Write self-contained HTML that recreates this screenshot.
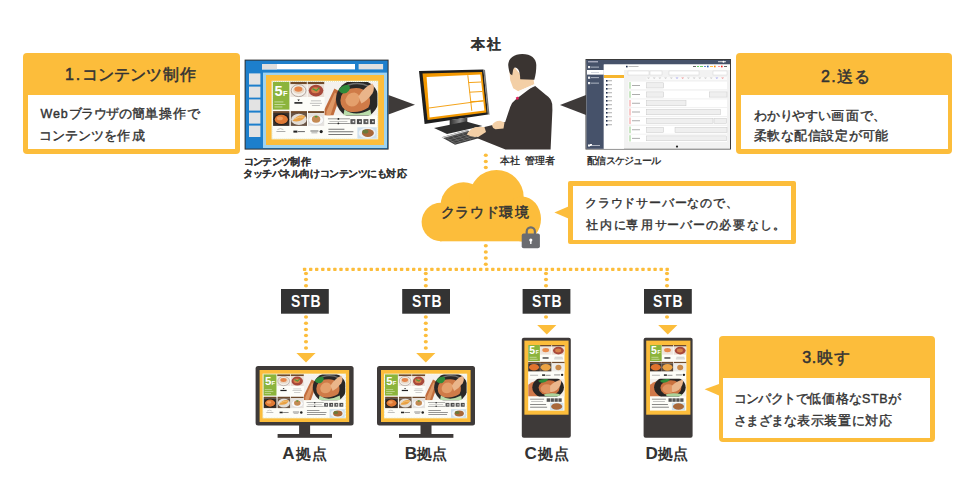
<!DOCTYPE html>
<html><head><meta charset="utf-8">
<style>
*{margin:0;padding:0;box-sizing:border-box}
html,body{width:974px;height:490px;overflow:hidden;background:#fff}
body{position:relative;font-family:"Liberation Sans",sans-serif;color:#333333}
.t{position:absolute;white-space:nowrap;font-weight:bold;line-height:1}
.box{position:absolute;background:#fcbd3b;border-radius:4px}
.box .in{position:absolute;background:#fff}
</style></head><body>
<svg width="974" height="490" viewBox="0 0 974 490" style="position:absolute;left:0;top:0"><defs>
<symbol id="mh" viewBox="0 0 107 59" preserveAspectRatio="none">
 <rect x="0" y="0" width="107" height="59" fill="#fdfdf8"/>
 <rect x="0.6" y="0.6" width="105.8" height="57.8" fill="none" stroke="#c9d9a8" stroke-width="0.8" stroke-dasharray="1 1"/>
 <rect x="1.5" y="1.3" width="16.5" height="27.7" fill="#8cb43c"/>
 <text x="3.2" y="15.2" font-family="Liberation Sans" font-weight="bold" font-size="14.6" fill="#fff">5</text>
 <text x="11.6" y="15.2" font-family="Liberation Sans" font-weight="bold" font-size="7.6" fill="#fff">F</text>
 <rect x="3" y="21" width="9" height="0.7" fill="#dfeec5"/>
 <rect x="3" y="23.5" width="11" height="0.7" fill="#dfeec5"/>
 <rect x="3" y="26" width="8" height="0.7" fill="#dfeec5"/>
 <g>
  <rect x="19" y="1.3" width="16.4" height="2.4" fill="#6f4a2b"/>
  <rect x="19" y="3.7" width="16.4" height="12.7" fill="#eee6df"/>
  <ellipse cx="27.2" cy="10" rx="7.4" ry="6" fill="#f3efe9" stroke="#8a7a70" stroke-width="0.6"/>
  <ellipse cx="27.2" cy="9.5" rx="5.6" ry="3.8" fill="#e9d6c2"/>
  <ellipse cx="27" cy="8.5" rx="4" ry="2.6" fill="#e4844a"/>
  <rect x="23" y="21.5" width="8" height="1.6" fill="#222"/>
  <path d="M26 19 l1.2 1.6 l1.2 -1.6z" fill="#222"/>
  <rect x="36.3" y="1.3" width="16.7" height="2.4" fill="#6f4a2b"/>
  <rect x="36.3" y="3.7" width="16.7" height="12.7" fill="#e9ddd4"/>
  <ellipse cx="44.6" cy="10" rx="7.3" ry="5.8" fill="#a8483a"/>
  <ellipse cx="44" cy="9.6" rx="4.2" ry="3" fill="#d6804a"/>
  <path d="M41 8 l4 2 l3 -3" stroke="#4f9a3a" stroke-width="1.3" fill="none"/>
  <rect x="39.5" y="20" width="10" height="0.6" fill="#999"/>
  <rect x="38.5" y="22.3" width="12" height="0.6" fill="#999"/>
  <rect x="40.5" y="24.6" width="8" height="0.6" fill="#999"/>
 </g>
 <g>
  <rect x="1.7" y="30.5" width="16.3" height="1.9" fill="#6f4a2b"/>
  <rect x="1.7" y="32.4" width="16.3" height="12.9" fill="#3a302a"/>
  <ellipse cx="9.9" cy="38.6" rx="7.8" ry="5.6" fill="#1f1c1a"/>
  <ellipse cx="9.9" cy="38.8" rx="6.6" ry="4.6" fill="#e07a35"/>
  <ellipse cx="8.5" cy="37.8" rx="3" ry="1.8" fill="#f0a060"/>
  <rect x="19.4" y="30.5" width="16.2" height="1.9" fill="#6f4a2b"/>
  <rect x="19.4" y="32.4" width="16.2" height="12.9" fill="#6a5545"/>
  <ellipse cx="27.5" cy="38.8" rx="7.8" ry="5.6" fill="#e3ddd5"/>
  <path d="M21 40.5 q6 -8 13 -5 q-3 7 -13 5z" fill="#e9a043"/>
  <path d="M23 38.5 q5 -3 9 -2" stroke="#f7d08a" stroke-width="0.8" fill="none"/>
  <rect x="36.6" y="30.5" width="16.2" height="1.9" fill="#6f4a2b"/>
  <rect x="36.6" y="32.4" width="16.2" height="12.9" fill="#e6e3df"/>
  <ellipse cx="44.7" cy="39.5" rx="7.5" ry="5" fill="#fafafa" stroke="#cfcfcf" stroke-width="0.5"/>
  <ellipse cx="44.7" cy="38.6" rx="4.2" ry="3.6" fill="#c48a52"/>
  <ellipse cx="44.7" cy="36" rx="1.5" ry="0.9" fill="#4f9a3a"/>
  <rect x="5" y="50.5" width="9" height="0.7" fill="#888"/>
  <path d="M6 49 q3 -2 6 0" stroke="#888" stroke-width="0.5" fill="none"/>
  <rect x="22" y="50" width="4" height="2" fill="#222"/>
  <rect x="26.5" y="50.5" width="7" height="1" fill="#666"/>
  <rect x="39" y="50" width="8" height="0.8" fill="#444"/>
  <rect x="40" y="52" width="6" height="0.6" fill="#777"/>
  <circle cx="49.8" cy="51" r="1.6" fill="#222"/>
 </g>
 <clipPath id="cph"><rect x="53" y="1.3" width="53" height="33.7"/></clipPath>
 <g clip-path="url(#cph)">
  <rect x="53" y="1.3" width="53" height="33.7" fill="#f4f1ee"/>
  <path d="M53 29 L63 8 L70 12 L62 35 L53 35z" fill="#c26e3e"/>
  <path d="M55 31 L63.5 12 L66 14 L59 35 L55 35z" fill="#de9866"/>
  <ellipse cx="86" cy="18.5" rx="21.5" ry="19.5" fill="#2a2827"/>
  <path d="M70 8 Q84 -1 98 6" stroke="#8d8d8d" stroke-width="1.6" fill="none" opacity="0.7"/>
  <path d="M69 20 Q70 9 80 8 Q90 6 96 12 Q101 20 97 27 Q88 33 77 31 Q69 28 69 20z" fill="#cf7b48"/>
  <path d="M74 19 Q76 12 83 12 Q89 13 88 20 Q86 26 80 26 Q74 25 74 19z" fill="#e4a06c"/>
  <path d="M87 16 Q93 6 101 3 Q104 7 101 13 Q96 20 90 23z" fill="#eab58a"/>
  <path d="M67 10 Q70 4 77 4.5 Q81 8 75 12.5 Q70 14 67 10z" fill="#2e8b3a"/>
  <path d="M73 29 Q84 37 99 29 L100 35 L72 35z" fill="#b9dca9"/>
 </g>
 <g>
  <rect x="56.5" y="38" width="22" height="0.6" fill="#555"/>
  <circle cx="67" cy="38.3" r="0.9" fill="#222"/>
  <rect x="58" y="40.5" width="18" height="0.5" fill="#888"/>
  <rect x="56.5" y="42.5" width="22" height="0.6" fill="#555"/>
  <circle cx="67" cy="42.8" r="0.9" fill="#222"/>
  <rect x="79" y="38.5" width="5" height="5" fill="#5a5a5a"/>
  <rect x="85.5" y="38.5" width="5" height="5" fill="#4a4a4a"/>
  <rect x="92" y="38.5" width="5" height="5" fill="#5a5a5a"/>
  <rect x="98.5" y="38.5" width="5" height="5" fill="#4a4a4a"/>
  <rect x="81.2" y="40.2" width="1.6" height="1.6" fill="#f0f0f0"/>
  <rect x="87.7" y="40.2" width="1.6" height="1.6" fill="#e8e8e8"/>
  <rect x="94.2" y="40.2" width="1.6" height="1.6" fill="#f0f0f0"/>
  <rect x="100.7" y="40.2" width="1.6" height="1.6" fill="#e8e8e8"/>
  <rect x="57" y="48.2" width="16" height="0.8" fill="#555"/>
  <rect x="57" y="50.8" width="25" height="0.8" fill="#555"/>
  <rect x="57" y="53.4" width="24" height="0.8" fill="#555"/>
  <rect x="86" y="46.7" width="19.4" height="11.3" fill="#cfe0ec"/>
  <ellipse cx="95.7" cy="52.4" rx="8.5" ry="5.4" fill="#eef3f6"/>
  <ellipse cx="96.5" cy="52.4" rx="6" ry="4" fill="#a9683a"/>
  <ellipse cx="94" cy="51" rx="3" ry="2" fill="#6a7a3a"/>
 </g>
</symbol>

<symbol id="mv" viewBox="0 0 36.6 66" preserveAspectRatio="none">
 <rect x="0" y="0" width="36.6" height="66" fill="#fdfdf8"/>
 <rect x="0" y="0" width="11.8" height="16.2" fill="#8cb43c"/>
 <text x="1.1" y="8.9" font-family="Liberation Sans" font-weight="bold" font-size="10.5" fill="#fff">5</text>
 <text x="7.6" y="8.9" font-family="Liberation Sans" font-weight="bold" font-size="5" fill="#fff">F</text>
 <rect x="1.5" y="12" width="7" height="0.6" fill="#dfeec5"/>
 <rect x="1.5" y="14" width="8" height="0.6" fill="#dfeec5"/>
 <rect x="12" y="0" width="11.3" height="1.7" fill="#6f4a2b"/>
 <rect x="12" y="1.7" width="11.3" height="8.1" fill="#eee6df"/>
 <ellipse cx="17.6" cy="5.7" rx="4.8" ry="3.4" fill="#ede3da"/>
 <ellipse cx="17.6" cy="5.2" rx="3.4" ry="2.2" fill="#e98a4a"/>
 <rect x="14.5" y="12.5" width="6" height="1.2" fill="#222"/>
 <rect x="24" y="0" width="12.6" height="1.7" fill="#6f4a2b"/>
 <rect x="24" y="1.7" width="12.6" height="8.1" fill="#e9ddd4"/>
 <ellipse cx="30.3" cy="5.7" rx="5.4" ry="3.8" fill="#a8483a"/>
 <ellipse cx="30" cy="5.5" rx="3" ry="2" fill="#d6804a"/>
 <rect x="26.5" y="12" width="8" height="0.5" fill="#999"/>
 <rect x="26" y="13.8" width="9" height="0.5" fill="#999"/>
 <rect x="0" y="17" width="11.8" height="1.4" fill="#6f4a2b"/>
 <rect x="0" y="18.4" width="11.8" height="8.1" fill="#3a302a"/>
 <ellipse cx="5.9" cy="22.4" rx="5" ry="3.3" fill="#e0732e"/>
 <rect x="12" y="17" width="11.3" height="1.4" fill="#6f4a2b"/>
 <rect x="12" y="18.4" width="11.3" height="8.1" fill="#5a4a3e"/>
 <ellipse cx="17.6" cy="22.5" rx="5" ry="3.4" fill="#eba345"/>
 <rect x="24" y="17" width="12.6" height="1.4" fill="#6f4a2b"/>
 <rect x="24" y="18.4" width="12.6" height="8.1" fill="#ecebe8"/>
 <ellipse cx="30.3" cy="22.6" rx="3" ry="2.8" fill="#c98a4a"/>
 <rect x="2" y="30" width="8" height="0.6" fill="#888"/>
 <rect x="14" y="29.5" width="3" height="1.5" fill="#222"/>
 <rect x="17.5" y="30" width="5" height="0.7" fill="#666"/>
 <rect x="26" y="29.8" width="6" height="0.6" fill="#444"/>
 <circle cx="34" cy="30" r="1.2" fill="#222"/>
 <clipPath id="cpv"><rect x="0" y="33.8" width="36.6" height="18"/></clipPath>
 <g clip-path="url(#cpv)">
 <rect x="0" y="33.8" width="36.6" height="18" fill="#f3efeb"/>
 <path d="M0 51.8 L0 40 Q4 37 8 36 L12 51.8z" fill="#d0784a"/>
 <ellipse cx="20" cy="42.5" rx="15.8" ry="11.5" fill="#272524"/>
 <ellipse cx="21" cy="43" rx="10.5" ry="7.5" fill="#c9713f"/>
 <ellipse cx="18.5" cy="44" rx="6" ry="4.5" fill="#e09461"/>
 <path d="M22 41 Q27 36 33 35 Q34 40 29 45 Q25 48 22 47z" fill="#eab68c"/>
 <path d="M10 36 Q14 33.5 20 34.5 Q19 37.5 14 38 Q11 38 10 36z" fill="#2f8d3c"/>
 <ellipse cx="24" cy="50.3" rx="8" ry="1.8" fill="#a9d29a"/>
 </g>
 <rect x="2" y="54" width="14" height="0.6" fill="#555"/>
 <rect x="3" y="56.2" width="12" height="0.5" fill="#888"/>
 <rect x="18.6" y="53.5" width="3.3" height="3.5" fill="#555"/>
 <rect x="22.5" y="53.5" width="3.3" height="3.5" fill="#555"/>
 <rect x="26.4" y="53.5" width="3.3" height="3.5" fill="#555"/>
 <rect x="30.3" y="53.5" width="3.3" height="3.5" fill="#555"/>
 <rect x="2" y="59.5" width="16" height="0.7" fill="#555"/>
 <rect x="2" y="62" width="17" height="0.7" fill="#555"/>
 <rect x="22" y="58" width="13.3" height="7.5" fill="#cfe0ec"/>
 <ellipse cx="28.6" cy="61.7" rx="5.5" ry="3.3" fill="#a9683a"/>
</symbol>
</defs>
 <rect x="244.6" y="59.6" width="144" height="90" fill="#2f2f2f"/>
 <rect x="245.6" y="60.6" width="142" height="88" fill="#1d7fcc"/>
 <rect x="262" y="64" width="93" height="5.4" fill="#ffffff"/>
 <rect x="262" y="64" width="15" height="5.4" fill="#dedede"/>
 <rect x="358.6" y="64" width="24.5" height="5.4" fill="#e0e0e0"/>
 <rect x="249" y="73.4" width="11.4" height="11.2" fill="#e3e3e3"/>
 <rect x="249" y="86.6" width="11.4" height="11" fill="#e3e3e3"/>
 <rect x="249" y="99.4" width="11.4" height="11.2" fill="#e3e3e3"/>
 <rect x="249" y="112.6" width="11.4" height="11" fill="#e3e3e3"/>
 <rect x="249" y="125.6" width="11.4" height="11.4" fill="#e3e3e3"/>
 <rect x="263" y="72.6" width="124" height="75.4" fill="#9fd3ef"/>
 <rect x="266" y="75" width="118" height="70" fill="#fcbd3b"/>
 <use href="#mh" x="271.4" y="80.6" width="107" height="59"/>
<path d="M388.4 95 L415 104.7 L388.4 114.5z" fill="#3e3a39"/><path d="M586 95 L560 105 L586 115z" fill="#3e3a39"/>
 <path d="M419 71 L483.4 69.5 L488 114.6 L424.6 124z" fill="#1e1e1e"/>
 <path d="M483.4 69.5 L485 70 L489.5 114.8 L488 114.6z" fill="#777"/>
 <path d="M422.5 73.6 L482 72 L486.4 112.5 L427.6 120z" fill="#f39800"/>
 <path d="M426.6 77 L480.4 74.6 L484.4 110.5 L429.6 117.6z" fill="#fff"/>
 <path d="M467.8 75.2 L471.8 110.8" stroke="#f39800" stroke-width="0.9"/>
 <path d="M468.6 82.6 L481.2 82.0" stroke="#f39800" stroke-width="0.9"/>
 <path d="M469.6 92.2 L482.3 91.5" stroke="#f39800" stroke-width="0.9"/>
 <path d="M470.6 101.7 L483.3 101.0" stroke="#f39800" stroke-width="0.9"/>
 <path d="M429 108 L483.6 100.7" stroke="#f39800" stroke-width="0.9"/>
 <defs><linearGradient id="neck" x1="0" x2="1"><stop offset="0" stop-color="#2a2a2a"/><stop offset="0.6" stop-color="#8a8a8a"/><stop offset="1" stop-color="#3a3a3a"/></linearGradient></defs>
 <path d="M449.7 120 L467.3 117.5 L467.3 126 L449.7 128z" fill="url(#neck)"/>
 <path d="M434 128 L466 121.5 L482.4 126 L447 134z" fill="#2e2e2e"/>
 <path d="M441.7 137.2 L467.3 130 L479.4 138 L455 144.7z" fill="#3e3e3e"/>
 <path d="M441.7 137.2 L467.3 130 L468.5 131 L443 138.2z" fill="#d0d0d0"/>
 <clipPath id="kb"><path d="M442.5 137.6 L467.3 130.6 L478.5 138 L455 144z"/></clipPath>
 <g stroke="#8a8a8a" stroke-width="0.5" opacity="0.9" clip-path="url(#kb)">
  <path d="M445 138.5 L468.6 131.8"/><path d="M448 140.2 L471 133.6"/><path d="M451 141.9 L473.6 135.4"/><path d="M454 143.4 L476.5 137"/>
  <path d="M447 137.9 L456 143.9"/><path d="M452 136.5 L461 142.5"/><path d="M457 135.1 L466 141.1"/><path d="M462 133.7 L471 139.7"/>
 </g>
 <path d="M516.2 99 L534.3 85.2 L546 95 Q551 98 552.2 104 L552.4 110 L550.6 149.4 L505.5 149.4 L477.4 138.2 L484.4 127.1 L505.2 122.1 L510.2 107 Q512 102 516.2 99z" fill="#3b3533"/>
 <path d="M466.8 134.5 Q470 128.5 476 127 L484.4 127.1 L486 132 L479 136.5 Q472 138 466.8 134.5z" fill="#f3cfa6"/>
 <path d="M492 125.5 Q494 121 500 120.8 L504.5 122.5 L503.5 128.5 L495.5 129.2 Q492.5 128.5 492 125.5z" fill="#f3cfa6"/>
 <path d="M509.2 69.1 L510.2 80.2 L513.2 88.2 L518.2 91.2 L534.3 84.2 L533.3 78 L520 74 L514.7 67.6z" fill="#f3cfa6"/>
 <path d="M518.2 91.2 L534.3 84.2 L535.8 85.7 L519.7 93.3z" fill="#fafafa"/>
 <path d="M515.8 97.6 L518.2 96.4 L519 99 L516.6 100z" fill="#e0245e"/>
 <path d="M508.2 65.1 C508.5 58 514 54 522.3 54 C531 54 536.3 58.5 536.3 65.1 C536.3 70 535.8 75 534.3 79.7 L520.2 79.2 C520.2 76 519.7 73 519.2 71.5 C518 68.5 516.5 67.5 514.7 67.6 C513.5 68.2 513 70 512.8 72 L512.2 75.2 L510.2 74.1 C509.3 72 508.5 69 508.2 65.1z" fill="#3a3431"/>

 <rect x="585.5" y="59" width="145.5" height="90.5" fill="#3a3a3a"/>
 <rect x="586.5" y="60" width="143.5" height="88.8" fill="#f2f2f2"/>
 <rect x="586.5" y="60" width="143.5" height="4.5" fill="#46526a"/>
 <rect x="586.5" y="60" width="17.3" height="88.8" fill="#46526a"/>
 <rect x="587" y="70" width="16.8" height="4.6" fill="#ffffff"/>
 <rect x="603.8" y="64.5" width="20.2" height="84.3" fill="#ffffff"/>
 <rect x="604" y="75" width="20" height="3" fill="#f6b52e"/>
 <rect x="624" y="64.5" width="106" height="5.5" fill="#ffffff"/>
 <rect x="600" y="61" width="0.1" height="0.1" fill="#fff"/>
 <rect x="628" y="71" width="21" height="4" fill="#fff" stroke="#ccc" stroke-width="0.4"/>
 <rect x="650" y="71" width="12" height="4" fill="#fff" stroke="#ccc" stroke-width="0.4"/>
 <rect x="669" y="71" width="30" height="4" fill="#fff" stroke="#ccc" stroke-width="0.4"/>
 <rect x="713" y="71" width="14" height="4" fill="#fff" stroke="#ccc" stroke-width="0.4"/>
 <rect x="626" y="65.8" width="1.6" height="1.6" fill="#1c2a4a"/><rect x="628.5" y="66.2" width="10" height="0.8" fill="#aaa"/>
 <rect x="693" y="66" width="3" height="1" fill="#666"/><rect x="697" y="66" width="2" height="1" fill="#6c6"/><rect x="700" y="66" width="3" height="1" fill="#6c6"/><rect x="704" y="66" width="2" height="1" fill="#68c"/><rect x="707" y="65.7" width="1.6" height="1.6" fill="#2a5fb0"/><rect x="710" y="66" width="3" height="1" fill="#fb4"/><rect x="714" y="65.7" width="1.6" height="1.6" fill="#f80"/><rect x="718" y="66" width="2" height="1" fill="#f99"/><rect x="721" y="65.7" width="1.6" height="1.6" fill="#e22"/><rect x="724" y="66" width="3" height="1" fill="#666"/>
 <rect x="718" y="61.2" width="8" height="1" fill="#ddd"/><circle cx="723.5" cy="61.8" r="1" fill="#fff"/>
 <rect x="588" y="61.3" width="10" height="1" fill="#ccd"/>
 <rect x="646.5" y="77" width="80.5" height="3" fill="#fafafa"/>
 <circle cx="677" cy="146.6" r="1.1" fill="#222"/>
 <rect x="590" y="144" width="2" height="2" fill="#fff"/>
<rect x="628.5" y="81.6" width="98.5" height="7.6" fill="#fff"/><rect x="629.6" y="82.1" width="0.8" height="6.6" fill="#7cc26b"/><rect x="632" y="85.0" width="8" height="0.8" fill="#999"/><rect x="646.5" y="82.8" width="17.1" height="5.2" fill="#efefef" stroke="#c4c4c4" stroke-width="0.45"/><rect x="628.5" y="90.7" width="98.5" height="7.6" fill="#fff"/><rect x="629.6" y="91.2" width="0.8" height="6.6" fill="#7cc26b"/><rect x="632" y="94.1" width="8" height="0.8" fill="#999"/><rect x="646.5" y="91.9" width="17.1" height="5.2" fill="#efefef" stroke="#c4c4c4" stroke-width="0.45"/><rect x="709.4" y="91.9" width="17.6" height="5.2" fill="#efefef" stroke="#c4c4c4" stroke-width="0.45"/><rect x="628.5" y="99.5" width="98.5" height="7.5" fill="#fff"/><rect x="629.6" y="100.0" width="0.8" height="6.5" fill="#ef7b7b"/><rect x="632" y="102.8" width="8" height="0.8" fill="#999"/><rect x="646.5" y="100.7" width="39.5" height="5.1" fill="#efefef" stroke="#c4c4c4" stroke-width="0.45"/><rect x="628.5" y="108" width="98.5" height="8.0" fill="#fff"/><rect x="629.6" y="108.5" width="0.8" height="7.0" fill="#ef7b7b"/><rect x="632" y="111.6" width="8" height="0.8" fill="#999"/><rect x="646.5" y="109.2" width="74.0" height="5.6" fill="#efefef" stroke="#c4c4c4" stroke-width="0.45"/><rect x="628.5" y="117" width="98.5" height="7.6" fill="#fff"/><rect x="629.6" y="117.5" width="0.8" height="6.6" fill="#ef7b7b"/><rect x="632" y="120.4" width="8" height="0.8" fill="#999"/><rect x="646.5" y="118.2" width="66.5" height="5.2" fill="#efefef" stroke="#c4c4c4" stroke-width="0.45"/><rect x="714" y="118.2" width="12.5" height="5.2" fill="#efefef" stroke="#c4c4c4" stroke-width="0.45"/><rect x="628.5" y="126" width="98.5" height="7.7" fill="#fff"/><rect x="629.6" y="126.5" width="0.8" height="6.7" fill="#7cc26b"/><rect x="632" y="129.4" width="8" height="0.8" fill="#999"/><rect x="646.5" y="127.2" width="17.1" height="5.3" fill="#efefef" stroke="#c4c4c4" stroke-width="0.45"/><rect x="675" y="127.2" width="52.0" height="5.3" fill="#efefef" stroke="#c4c4c4" stroke-width="0.45"/><rect x="628.5" y="134.7" width="98.5" height="7.3" fill="#fff"/><rect x="629.6" y="135.2" width="0.8" height="6.3" fill="#7cc26b"/><rect x="632" y="137.9" width="8" height="0.8" fill="#999"/><rect x="646.5" y="135.9" width="80.0" height="4.9" fill="#efefef" stroke="#c4c4c4" stroke-width="0.45"/><rect x="588" y="66" width="2.2" height="2.2" fill="#fff" opacity="0.9"/><rect x="591" y="66.7" width="8" height="0.8" fill="#c8cdd8"/><rect x="588" y="71.3" width="2.2" height="2.2" fill="#fff" opacity="0.9"/><rect x="591" y="72.0" width="8" height="0.8" fill="#c8cdd8"/><rect x="588" y="76.6" width="2.2" height="2.2" fill="#fff" opacity="0.9"/><rect x="591" y="77.3" width="8" height="0.8" fill="#c8cdd8"/><rect x="588" y="82" width="2.2" height="2.2" fill="#fff" opacity="0.9"/><rect x="591" y="82.7" width="8" height="0.8" fill="#c8cdd8"/><rect x="606" y="80" width="1.6" height="1.6" fill="#1c2a4a"/><rect x="608" y="80.4" width="4" height="0.8" fill="#999"/><rect x="606" y="84" width="1.6" height="1.6" fill="#1c2a4a"/><rect x="608" y="84.4" width="4" height="0.8" fill="#999"/><rect x="606" y="88" width="1.6" height="1.6" fill="#1c2a4a"/><rect x="608" y="88.4" width="4" height="0.8" fill="#999"/><rect x="606" y="92" width="1.6" height="1.6" fill="#1c2a4a"/><rect x="608" y="92.4" width="4" height="0.8" fill="#999"/><rect x="606" y="96" width="1.6" height="1.6" fill="#1c2a4a"/><rect x="608" y="96.4" width="4" height="0.8" fill="#999"/><rect x="606" y="100" width="1.6" height="1.6" fill="#1c2a4a"/><rect x="608" y="100.4" width="4" height="0.8" fill="#999"/><rect x="606" y="104" width="1.6" height="1.6" fill="#1c2a4a"/><rect x="608" y="104.4" width="4" height="0.8" fill="#999"/><rect x="606" y="108" width="1.6" height="1.6" fill="#1c2a4a"/><rect x="608" y="108.4" width="4" height="0.8" fill="#999"/><rect x="606" y="112" width="1.6" height="1.6" fill="#1c2a4a"/><rect x="608" y="112.4" width="4" height="0.8" fill="#999"/><rect x="606" y="116" width="1.6" height="1.6" fill="#1c2a4a"/><rect x="608" y="116.4" width="4" height="0.8" fill="#999"/><rect x="606" y="120" width="1.6" height="1.6" fill="#1c2a4a"/><rect x="608" y="120.4" width="4" height="0.8" fill="#999"/><rect x="606" y="124" width="1.6" height="1.6" fill="#1c2a4a"/><rect x="608" y="124.4" width="4" height="0.8" fill="#999"/><rect x="588" y="144.5" width="2" height="2" fill="#fff"/><rect x="591" y="145" width="9" height="0.8" fill="#c8cdd8"/><path d="M647.0 77.5 l3 0 l-1.5 1.5z" fill="#ccc"/><path d="M652.7 77.5 l3 0 l-1.5 1.5z" fill="#ccc"/><path d="M658.4 77.5 l3 0 l-1.5 1.5z" fill="#ccc"/><path d="M664.1 77.5 l3 0 l-1.5 1.5z" fill="#ccc"/><path d="M669.8 77.5 l3 0 l-1.5 1.5z" fill="#ccc"/><path d="M675.5 77.5 l3 0 l-1.5 1.5z" fill="#a9a9ee"/><path d="M681.2 77.5 l3 0 l-1.5 1.5z" fill="#ee9a9a"/><path d="M686.9 77.5 l3 0 l-1.5 1.5z" fill="#ccc"/><path d="M692.6 77.5 l3 0 l-1.5 1.5z" fill="#ccc"/><path d="M698.3 77.5 l3 0 l-1.5 1.5z" fill="#ccc"/><path d="M704.0 77.5 l3 0 l-1.5 1.5z" fill="#ccc"/><path d="M709.7 77.5 l3 0 l-1.5 1.5z" fill="#ccc"/><path d="M715.4 77.5 l3 0 l-1.5 1.5z" fill="#a9a9ee"/><path d="M721.1 77.5 l3 0 l-1.5 1.5z" fill="#ee9a9a"/><g fill="#fcbd3b"><ellipse cx="485.8" cy="155.2" rx="2.05" ry="1.75"/><ellipse cx="485.8" cy="161.4" rx="2.05" ry="1.75"/><ellipse cx="485.8" cy="167.6" rx="2.05" ry="1.75"/><ellipse cx="485.8" cy="245.8" rx="2.05" ry="1.75"/><ellipse cx="485.8" cy="252.0" rx="2.05" ry="1.75"/><ellipse cx="485.8" cy="258.1" rx="2.05" ry="1.75"/><ellipse cx="485.8" cy="264.3" rx="2.05" ry="1.75"/><rect x="302.9" y="267.7" width="3.4" height="3.4" rx="0.8"/><rect x="309.0" y="267.7" width="3.4" height="3.4" rx="0.8"/><rect x="315.0" y="267.7" width="3.4" height="3.4" rx="0.8"/><rect x="321.1" y="267.7" width="3.4" height="3.4" rx="0.8"/><rect x="327.1" y="267.7" width="3.4" height="3.4" rx="0.8"/><rect x="333.2" y="267.7" width="3.4" height="3.4" rx="0.8"/><rect x="339.3" y="267.7" width="3.4" height="3.4" rx="0.8"/><rect x="345.3" y="267.7" width="3.4" height="3.4" rx="0.8"/><rect x="351.4" y="267.7" width="3.4" height="3.4" rx="0.8"/><rect x="357.4" y="267.7" width="3.4" height="3.4" rx="0.8"/><rect x="363.5" y="267.7" width="3.4" height="3.4" rx="0.8"/><rect x="369.6" y="267.7" width="3.4" height="3.4" rx="0.8"/><rect x="375.6" y="267.7" width="3.4" height="3.4" rx="0.8"/><rect x="381.7" y="267.7" width="3.4" height="3.4" rx="0.8"/><rect x="387.7" y="267.7" width="3.4" height="3.4" rx="0.8"/><rect x="393.8" y="267.7" width="3.4" height="3.4" rx="0.8"/><rect x="399.9" y="267.7" width="3.4" height="3.4" rx="0.8"/><rect x="405.9" y="267.7" width="3.4" height="3.4" rx="0.8"/><rect x="412.0" y="267.7" width="3.4" height="3.4" rx="0.8"/><rect x="418.0" y="267.7" width="3.4" height="3.4" rx="0.8"/><rect x="424.1" y="267.7" width="3.4" height="3.4" rx="0.8"/><rect x="430.2" y="267.7" width="3.4" height="3.4" rx="0.8"/><rect x="436.3" y="267.7" width="3.4" height="3.4" rx="0.8"/><rect x="442.4" y="267.7" width="3.4" height="3.4" rx="0.8"/><rect x="448.5" y="267.7" width="3.4" height="3.4" rx="0.8"/><rect x="454.6" y="267.7" width="3.4" height="3.4" rx="0.8"/><rect x="460.7" y="267.7" width="3.4" height="3.4" rx="0.8"/><rect x="466.8" y="267.7" width="3.4" height="3.4" rx="0.8"/><rect x="472.9" y="267.7" width="3.4" height="3.4" rx="0.8"/><rect x="479.0" y="267.7" width="3.4" height="3.4" rx="0.8"/><rect x="485.1" y="267.7" width="3.4" height="3.4" rx="0.8"/><rect x="491.1" y="267.7" width="3.4" height="3.4" rx="0.8"/><rect x="497.0" y="267.7" width="3.4" height="3.4" rx="0.8"/><rect x="503.0" y="267.7" width="3.4" height="3.4" rx="0.8"/><rect x="508.9" y="267.7" width="3.4" height="3.4" rx="0.8"/><rect x="514.9" y="267.7" width="3.4" height="3.4" rx="0.8"/><rect x="520.9" y="267.7" width="3.4" height="3.4" rx="0.8"/><rect x="526.8" y="267.7" width="3.4" height="3.4" rx="0.8"/><rect x="532.8" y="267.7" width="3.4" height="3.4" rx="0.8"/><rect x="538.7" y="267.7" width="3.4" height="3.4" rx="0.8"/><rect x="544.7" y="267.7" width="3.4" height="3.4" rx="0.8"/><rect x="550.7" y="267.7" width="3.4" height="3.4" rx="0.8"/><rect x="556.8" y="267.7" width="3.4" height="3.4" rx="0.8"/><rect x="562.8" y="267.7" width="3.4" height="3.4" rx="0.8"/><rect x="568.9" y="267.7" width="3.4" height="3.4" rx="0.8"/><rect x="574.9" y="267.7" width="3.4" height="3.4" rx="0.8"/><rect x="580.9" y="267.7" width="3.4" height="3.4" rx="0.8"/><rect x="587.0" y="267.7" width="3.4" height="3.4" rx="0.8"/><rect x="593.0" y="267.7" width="3.4" height="3.4" rx="0.8"/><rect x="599.1" y="267.7" width="3.4" height="3.4" rx="0.8"/><rect x="605.1" y="267.7" width="3.4" height="3.4" rx="0.8"/><rect x="611.1" y="267.7" width="3.4" height="3.4" rx="0.8"/><rect x="617.2" y="267.7" width="3.4" height="3.4" rx="0.8"/><rect x="623.2" y="267.7" width="3.4" height="3.4" rx="0.8"/><rect x="629.3" y="267.7" width="3.4" height="3.4" rx="0.8"/><rect x="635.3" y="267.7" width="3.4" height="3.4" rx="0.8"/><rect x="641.3" y="267.7" width="3.4" height="3.4" rx="0.8"/><rect x="647.4" y="267.7" width="3.4" height="3.4" rx="0.8"/><rect x="653.4" y="267.7" width="3.4" height="3.4" rx="0.8"/><rect x="659.5" y="267.7" width="3.4" height="3.4" rx="0.8"/><rect x="665.5" y="267.7" width="3.4" height="3.4" rx="0.8"/><ellipse cx="306.0" cy="273.4" rx="2.05" ry="1.75"/><ellipse cx="306.0" cy="279.6" rx="2.05" ry="1.75"/><ellipse cx="306.0" cy="285.8" rx="2.05" ry="1.75"/><ellipse cx="425.8" cy="273.4" rx="2.05" ry="1.75"/><ellipse cx="425.8" cy="279.6" rx="2.05" ry="1.75"/><ellipse cx="425.8" cy="285.8" rx="2.05" ry="1.75"/><ellipse cx="546.0" cy="273.4" rx="2.05" ry="1.75"/><ellipse cx="546.0" cy="279.6" rx="2.05" ry="1.75"/><ellipse cx="546.0" cy="285.8" rx="2.05" ry="1.75"/><ellipse cx="667.0" cy="273.4" rx="2.05" ry="1.75"/><ellipse cx="667.0" cy="279.6" rx="2.05" ry="1.75"/><ellipse cx="667.0" cy="285.8" rx="2.05" ry="1.75"/><ellipse cx="306.0" cy="317.0" rx="2.05" ry="1.75"/><ellipse cx="306.0" cy="323.2" rx="2.05" ry="1.75"/><ellipse cx="306.0" cy="329.4" rx="2.05" ry="1.75"/><ellipse cx="306.0" cy="335.6" rx="2.05" ry="1.75"/><ellipse cx="306.0" cy="341.8" rx="2.05" ry="1.75"/><ellipse cx="306.0" cy="348.0" rx="2.05" ry="1.75"/><ellipse cx="425.8" cy="317.0" rx="2.05" ry="1.75"/><ellipse cx="425.8" cy="323.2" rx="2.05" ry="1.75"/><ellipse cx="425.8" cy="329.4" rx="2.05" ry="1.75"/><ellipse cx="425.8" cy="335.6" rx="2.05" ry="1.75"/><ellipse cx="425.8" cy="341.8" rx="2.05" ry="1.75"/><ellipse cx="425.8" cy="348.0" rx="2.05" ry="1.75"/><ellipse cx="546.0" cy="317.0" rx="2.05" ry="1.75"/><ellipse cx="667.0" cy="317.0" rx="2.05" ry="1.75"/></g>
 <g fill="#fcbd3b">
  <circle cx="440.8" cy="222" r="19.2"/>
  <circle cx="463.5" cy="205" r="22.8"/>
  <circle cx="496.5" cy="197.2" r="27.2"/>
  <ellipse cx="522" cy="219" rx="19" ry="22.5"/>
  <rect x="440" y="204" width="82" height="37.3"/>
 </g>
 <g fill="#6b6c70">
  <path d="M525.6 234 v-2.5 a5.2 5.2 0 0 1 10.4 0 v2.5 h-2.2 v-2.5 a3 3 0 0 0 -6 0 v2.5z"/>
  <rect x="521.7" y="233.5" width="18.2" height="14.8" rx="2"/>
 </g>
 <circle cx="530.8" cy="240" r="1.6" fill="#fff"/>
 <rect x="530.1" y="240" width="1.4" height="4" fill="#fff"/>
<path d="M569.5 206 L554.4 212.6 L569.5 219z" fill="#fcbd3b"/><path d="M719 384 L704.6 389.3 L719 395.4z" fill="#fcbd3b"/><rect x="281" y="289" width="47.8" height="24.7" fill="#333"/><rect x="402.2" y="289" width="47.8" height="24.7" fill="#333"/><rect x="522.6" y="289" width="47.8" height="24.7" fill="#333"/><rect x="644" y="289" width="47.8" height="24.7" fill="#333"/><path d="M296.4 353 L315.6 353 L306 362.5z" fill="#fcbd3b"/><path d="M416.2 353 L435.40000000000003 353 L425.8 362.5z" fill="#fcbd3b"/><path d="M537.1999999999999 325 L556.4 325 L546.8 334.5z" fill="#fcbd3b"/><path d="M658.1999999999999 325 L677.4 325 L667.8 334.5z" fill="#fcbd3b"/>
 <rect x="255.6" y="366" width="98" height="59.4" rx="2.5" fill="#3e3a39"/>
 <rect x="259.6" y="370" width="89.6" height="52" fill="#fcbd3b"/>
 <use href="#mh" x="262.4" y="373.4" width="83.6" height="45.2"/>
 <rect x="299.1" y="424" width="11" height="10.5" fill="#3e3a39"/>
 <rect x="277.6" y="434" width="54.4" height="3.8" fill="#3e3a39"/>

 <rect x="377" y="366" width="98" height="59.4" rx="2.5" fill="#3e3a39"/>
 <rect x="381" y="370" width="89.6" height="52" fill="#fcbd3b"/>
 <use href="#mh" x="383.8" y="373.4" width="83.6" height="45.2"/>
 <rect x="420.5" y="424" width="11" height="10.5" fill="#3e3a39"/>
 <rect x="399" y="434" width="54.4" height="3.8" fill="#3e3a39"/>

 <rect x="521.8" y="337.8" width="49" height="100" rx="2" fill="#3e3a39"/>
 <rect x="524.4" y="340.6" width="44.2" height="74.1" fill="#fcbd3b"/>
 <use href="#mv" x="528.0999999999999" y="344.9" width="36.6" height="65.9"/>

 <rect x="643.6" y="337.8" width="49" height="100" rx="2" fill="#3e3a39"/>
 <rect x="646.2" y="340.6" width="44.2" height="74.1" fill="#fcbd3b"/>
 <use href="#mv" x="649.9" y="344.9" width="36.6" height="65.9"/>
</svg>
<div class="box" style="left:23px;top:53px;width:217px;height:101px"><div class="in" style="left:5px;top:42px;width:207px;height:54px"></div></div>
<div class="box" style="left:736px;top:53px;width:216px;height:101px"><div class="in" style="left:5px;top:42px;width:207px;height:54px"></div></div>
<div class="box" style="left:718.6px;top:336px;width:216px;height:106.4px"><div class="in" style="left:4.4px;top:42px;width:207px;height:59.6px"></div></div>
<div class="box" style="left:568px;top:181px;width:228px;height:63px;border-radius:2px"><div class="in" style="left:5px;top:4.6px;width:218.4px;height:54.4px"></div></div>

<div class="t" id="t1" style="left:65.0px;top:66.6px;font-size:16px;font-weight:400;color:#333333;-webkit-text-stroke:0.5px #333333;"><span style="letter-spacing:1.73px">1</span><span style="letter-spacing:1.73px">.</span><span style="letter-spacing:0.13px">コ</span><span style="letter-spacing:0.13px">ン</span><span style="letter-spacing:0.13px">テ</span><span style="letter-spacing:0.13px">ン</span><span style="letter-spacing:0.13px">ツ</span><span style="letter-spacing:1.73px">制</span><span style="letter-spacing:1.73px">作</span></div>
<div class="t" id="t2" style="left:40.6px;top:108.3px;font-size:12.5px;font-weight:400;color:#333333;-webkit-text-stroke:0.4px #333333;"><span style="letter-spacing:0.83px">W</span><span style="letter-spacing:0.83px">e</span><span style="letter-spacing:0.83px">b</span><span style="letter-spacing:-0.42px">ブ</span><span style="letter-spacing:-0.42px">ラ</span><span style="letter-spacing:-0.42px">ウ</span><span style="letter-spacing:-0.42px">ザ</span><span style="letter-spacing:-0.42px">の</span><span style="letter-spacing:0.83px">簡</span><span style="letter-spacing:0.83px">単</span><span style="letter-spacing:0.83px">操</span><span style="letter-spacing:0.83px">作</span><span style="letter-spacing:-0.42px">で</span></div>
<div class="t" id="t3" style="left:38.6px;top:130.0px;font-size:12.5px;font-weight:400;color:#333333;-webkit-text-stroke:0.4px #333333;"><span style="letter-spacing:0.14px">コ</span><span style="letter-spacing:0.14px">ン</span><span style="letter-spacing:0.14px">テ</span><span style="letter-spacing:0.14px">ン</span><span style="letter-spacing:0.14px">ツ</span><span style="letter-spacing:0.14px">を</span><span style="letter-spacing:1.39px">作</span><span style="letter-spacing:1.39px">成</span></div>
<div class="t" id="t4" style="left:243.5px;top:157.2px;font-size:9.5px;font-weight:700;color:#333333;-webkit-text-stroke:0.15px #333333;"><span style="letter-spacing:-0.67px">コ</span><span style="letter-spacing:-0.67px">ン</span><span style="letter-spacing:-0.67px">テ</span><span style="letter-spacing:-0.67px">ン</span><span style="letter-spacing:-0.67px">ツ</span><span style="letter-spacing:0.28px">制</span><span style="letter-spacing:0.28px">作</span></div>
<div class="t" id="t5" style="left:243.0px;top:169.0px;font-size:9.5px;font-weight:700;color:#333333;-webkit-text-stroke:0.15px #333333;"><span style="letter-spacing:-0.50px">タ</span><span style="letter-spacing:-0.50px">ッ</span><span style="letter-spacing:-0.50px">チ</span><span style="letter-spacing:-0.50px">パ</span><span style="letter-spacing:-0.50px">ネ</span><span style="letter-spacing:-0.50px">ル</span><span style="letter-spacing:0.45px">向</span><span style="letter-spacing:-0.50px">け</span><span style="letter-spacing:-0.50px">コ</span><span style="letter-spacing:-0.50px">ン</span><span style="letter-spacing:-0.50px">テ</span><span style="letter-spacing:-0.50px">ン</span><span style="letter-spacing:-0.50px">ツ</span><span style="letter-spacing:-0.50px">に</span><span style="letter-spacing:-0.50px">も</span><span style="letter-spacing:0.45px">対</span><span style="letter-spacing:0.45px">応</span></div>
<div class="t" id="t6" style="left:471.1px;top:38.3px;font-size:13.7px;font-weight:700;color:#333333;-webkit-text-stroke:0.2px #333333;"><span style="letter-spacing:2.37px">本</span><span style="letter-spacing:2.37px">社</span></div>
<div class="t" id="t7" style="left:499.8px;top:155.5px;font-size:9.6px;font-weight:700;color:#333333;"><span style="letter-spacing:0.04px">本</span><span style="letter-spacing:0.04px">社</span><span style="letter-spacing:0.04px"> </span><span style="letter-spacing:0.04px">管</span><span style="letter-spacing:0.04px">理</span><span style="letter-spacing:0.04px">者</span></div>
<div class="t" id="t8" style="left:586.5px;top:155.5px;font-size:9.6px;font-weight:700;color:#333333;"><span style="letter-spacing:-0.04px">配</span><span style="letter-spacing:-0.04px">信</span><span style="letter-spacing:-1.00px">ス</span><span style="letter-spacing:-1.00px">ケ</span><span style="letter-spacing:-1.00px">ジ</span><span style="letter-spacing:-1.00px">ュ</span><span style="letter-spacing:-1.00px">ー</span><span style="letter-spacing:-1.00px">ル</span></div>
<div class="t" id="t9" style="left:821.0px;top:68.7px;font-size:16px;font-weight:400;color:#333333;-webkit-text-stroke:0.5px #333333;"><span style="letter-spacing:1.27px">2</span><span style="letter-spacing:1.27px">.</span><span style="letter-spacing:1.27px">送</span><span style="letter-spacing:-0.33px">る</span></div>
<div class="t" id="t10" style="left:753.6px;top:109.7px;font-size:12.5px;font-weight:400;color:#333333;-webkit-text-stroke:0.4px #333333;"><span style="letter-spacing:-0.06px">わ</span><span style="letter-spacing:-0.06px">か</span><span style="letter-spacing:-0.06px">り</span><span style="letter-spacing:-0.06px">や</span><span style="letter-spacing:-0.06px">す</span><span style="letter-spacing:-0.06px">い</span><span style="letter-spacing:1.19px">画</span><span style="letter-spacing:1.19px">面</span><span style="letter-spacing:-0.06px">で</span><span style="letter-spacing:-5.31px">、</span></div>
<div class="t" id="t11" style="left:753.6px;top:130.0px;font-size:12.5px;font-weight:400;color:#333333;-webkit-text-stroke:0.4px #333333;"><span style="letter-spacing:0.81px">柔</span><span style="letter-spacing:0.81px">軟</span><span style="letter-spacing:-0.44px">な</span><span style="letter-spacing:0.81px">配</span><span style="letter-spacing:0.81px">信</span><span style="letter-spacing:0.81px">設</span><span style="letter-spacing:0.81px">定</span><span style="letter-spacing:-0.44px">が</span><span style="letter-spacing:0.81px">可</span><span style="letter-spacing:0.81px">能</span></div>
<div class="t" id="t12" style="left:440.5px;top:205.0px;font-size:14px;font-weight:400;color:#333333;-webkit-text-stroke:0.5px #333333;"><span style="letter-spacing:0.68px">ク</span><span style="letter-spacing:0.68px">ラ</span><span style="letter-spacing:0.68px">ウ</span><span style="letter-spacing:0.68px">ド</span><span style="letter-spacing:2.08px">環</span><span style="letter-spacing:2.08px">境</span></div>
<div class="t" id="t13" style="left:585.0px;top:196.5px;font-size:12px;font-weight:400;color:#333333;-webkit-text-stroke:0.4px #333333;"><span style="letter-spacing:0.79px">ク</span><span style="letter-spacing:0.79px">ラ</span><span style="letter-spacing:0.79px">ウ</span><span style="letter-spacing:0.79px">ド</span><span style="letter-spacing:0.79px">サ</span><span style="letter-spacing:0.79px">ー</span><span style="letter-spacing:0.79px">バ</span><span style="letter-spacing:0.79px">ー</span><span style="letter-spacing:0.79px">な</span><span style="letter-spacing:0.79px">の</span><span style="letter-spacing:0.79px">で</span><span style="letter-spacing:-4.25px">、</span></div>
<div class="t" id="t14" style="left:585.5px;top:218.7px;font-size:12px;font-weight:400;color:#333333;-webkit-text-stroke:0.4px #333333;"><span style="letter-spacing:2.05px">社</span><span style="letter-spacing:2.05px">内</span><span style="letter-spacing:0.85px">に</span><span style="letter-spacing:2.05px">専</span><span style="letter-spacing:2.05px">用</span><span style="letter-spacing:0.85px">サ</span><span style="letter-spacing:0.85px">ー</span><span style="letter-spacing:0.85px">バ</span><span style="letter-spacing:0.85px">ー</span><span style="letter-spacing:0.85px">の</span><span style="letter-spacing:2.05px">必</span><span style="letter-spacing:2.05px">要</span><span style="letter-spacing:0.85px">な</span><span style="letter-spacing:0.85px">し</span><span style="letter-spacing:-4.19px">。</span></div>
<div class="t" id="t15" style="left:290.6px;top:293.1px;font-size:17px;font-weight:700;letter-spacing:1px;color:#fff;transform:scaleX(0.82);transform-origin:0 0">STB</div>
<div class="t" id="t16" style="left:411.8px;top:293.1px;font-size:17px;font-weight:700;letter-spacing:1px;color:#fff;transform:scaleX(0.82);transform-origin:0 0">STB</div>
<div class="t" id="t17" style="left:531.6px;top:293.1px;font-size:17px;font-weight:700;letter-spacing:1px;color:#fff;transform:scaleX(0.82);transform-origin:0 0">STB</div>
<div class="t" id="t18" style="left:653.0px;top:293.1px;font-size:17px;font-weight:700;letter-spacing:1px;color:#fff;transform:scaleX(0.82);transform-origin:0 0">STB</div>
<div class="t" id="t19" style="left:282.3px;top:445.1px;font-size:14.6px;font-weight:700;color:#333333;"><span style="letter-spacing:1.06px;font-size:17.08px">A</span><span style="letter-spacing:1.06px">拠</span><span style="letter-spacing:1.06px">点</span></div>
<div class="t" id="t20" style="left:404.7px;top:445.1px;font-size:14.6px;font-weight:700;color:#333333;"><span style="letter-spacing:0.06px;font-size:17.08px">B</span><span style="letter-spacing:0.06px">拠</span><span style="letter-spacing:0.06px">点</span></div>
<div class="t" id="t21" style="left:524.6px;top:445.1px;font-size:14.6px;font-weight:700;color:#333333;"><span style="letter-spacing:0.96px;font-size:17.08px">C</span><span style="letter-spacing:0.96px">拠</span><span style="letter-spacing:0.96px">点</span></div>
<div class="t" id="t22" style="left:645.4px;top:445.1px;font-size:14.6px;font-weight:700;color:#333333;"><span style="letter-spacing:0.36px;font-size:17.08px">D</span><span style="letter-spacing:0.36px">拠</span><span style="letter-spacing:0.36px">点</span></div>
<div class="t" id="t23" style="left:802.3px;top:349.7px;font-size:16px;font-weight:400;color:#333333;-webkit-text-stroke:0.5px #333333;"><span style="letter-spacing:0.66px">3</span><span style="letter-spacing:0.66px">.</span><span style="letter-spacing:0.66px">映</span><span style="letter-spacing:-0.94px">す</span></div>
<div class="t" id="t24" style="left:733.5px;top:392.6px;font-size:12.5px;font-weight:400;color:#333333;-webkit-text-stroke:0.4px #333333;"><span style="letter-spacing:-0.54px">コ</span><span style="letter-spacing:-0.54px">ン</span><span style="letter-spacing:-0.54px">パ</span><span style="letter-spacing:-0.54px">ク</span><span style="letter-spacing:-0.54px">ト</span><span style="letter-spacing:-0.54px">で</span><span style="letter-spacing:0.71px">低</span><span style="letter-spacing:0.71px">価</span><span style="letter-spacing:0.71px">格</span><span style="letter-spacing:-0.54px">な</span><span style="letter-spacing:0.71px">S</span><span style="letter-spacing:0.71px">T</span><span style="letter-spacing:0.71px">B</span><span style="letter-spacing:-0.54px">が</span></div>
<div class="t" id="t25" style="left:733.5px;top:414.7px;font-size:12.5px;font-weight:400;color:#333333;-webkit-text-stroke:0.4px #333333;"><span style="letter-spacing:-0.39px">さ</span><span style="letter-spacing:-0.39px">ま</span><span style="letter-spacing:-0.39px">ざ</span><span style="letter-spacing:-0.39px">ま</span><span style="letter-spacing:-0.39px">な</span><span style="letter-spacing:0.86px">表</span><span style="letter-spacing:0.86px">示</span><span style="letter-spacing:0.86px">装</span><span style="letter-spacing:0.86px">置</span><span style="letter-spacing:-0.39px">に</span><span style="letter-spacing:0.86px">対</span><span style="letter-spacing:0.86px">応</span></div>
</body></html>
